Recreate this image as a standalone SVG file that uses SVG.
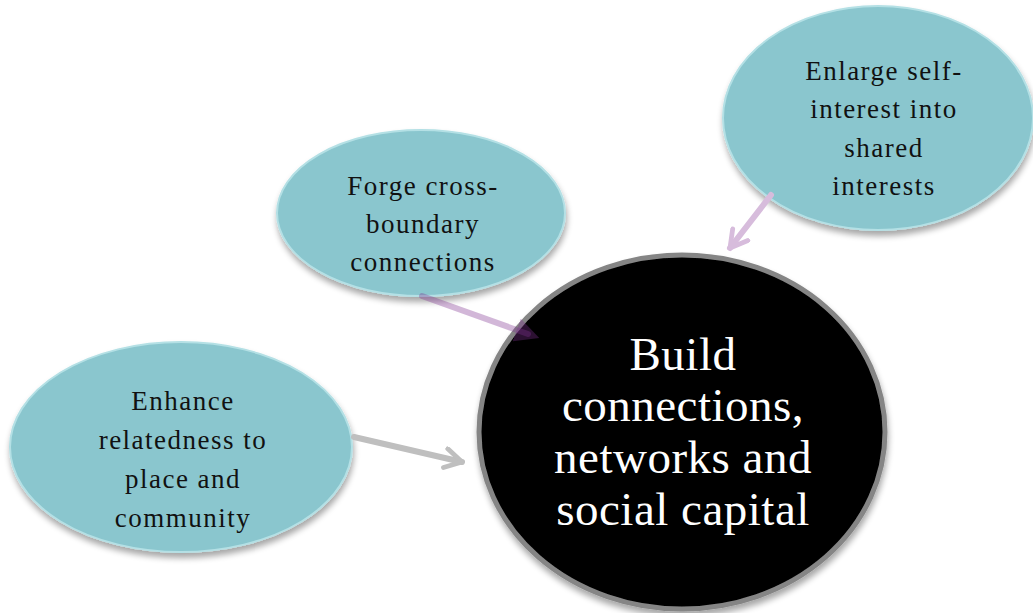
<svg xmlns="http://www.w3.org/2000/svg" width="1033" height="613" viewBox="0 0 1033 613">
<defs>
<filter id="sh" x="-20%" y="-20%" width="140%" height="150%">
<feGaussianBlur in="SourceAlpha" stdDeviation="3"/>
<feOffset dx="1" dy="5" result="b"/>
<feComponentTransfer><feFuncA type="linear" slope="0.35"/></feComponentTransfer>
<feMerge><feMergeNode/><feMergeNode in="SourceGraphic"/></feMerge>
</filter>
<marker id="chevG" viewBox="0 0 10 10" refX="8" refY="5" markerWidth="4" markerHeight="4" orient="auto" markerUnits="strokeWidth">
<path d="M1,1 L8,5 L1,9" fill="none" stroke="#BFBFBF" stroke-width="2" stroke-linecap="round" stroke-linejoin="round"/>
</marker>
<marker id="chevP" viewBox="0 0 10 10" refX="8" refY="5" markerWidth="4" markerHeight="4" orient="auto" markerUnits="strokeWidth">
<path d="M1,1 L8,5 L1,9" fill="none" stroke="#D7BCDC" stroke-width="2" stroke-linecap="round" stroke-linejoin="round"/>
</marker>
<marker id="triP" viewBox="0 0 10 10" refX="5" refY="5" markerWidth="4" markerHeight="4" orient="auto" markerUnits="strokeWidth">
<path d="M0,0 L10,5 L0,10 Z" fill="#7E3290" fill-opacity="0.35"/>
</marker>
</defs>
<style>
.sat{fill:#8AC6CE;stroke:#B4E0E5;stroke-width:2;filter:url(#sh)}
.t{font-family:"Liberation Serif",serif;font-size:27px;letter-spacing:1.5px;fill:#111;text-anchor:middle}
.c{font-family:"Liberation Serif",serif;font-size:47px;letter-spacing:0.5px;fill:#fff;text-anchor:middle}
</style>
<rect width="1033" height="613" fill="#fff"/>
<g id="n-enhance">
<ellipse class="sat" cx="181" cy="447" rx="171" ry="105"/>
<text class="t" x="183" y="410">Enhance</text>
<text class="t" x="183" y="449">relatedness to</text>
<text class="t" x="183" y="488">place and</text>
<text class="t" x="183" y="527">community</text>
</g>
<g id="n-forge">
<ellipse class="sat" cx="421" cy="213" rx="144" ry="83"/>
<text class="t" x="423" y="195">Forge cross-</text>
<text class="t" x="423" y="233">boundary</text>
<text class="t" x="423" y="271">connections</text>
</g>
<g id="n-enlarge">
<ellipse class="sat" cx="878" cy="118" rx="155" ry="112"/>
<text class="t" x="884" y="80">Enlarge self-</text>
<text class="t" x="884" y="118">interest into</text>
<text class="t" x="884" y="157">shared</text>
<text class="t" x="884" y="195">interests</text>
</g>
<g id="n-build">
<ellipse cx="682" cy="432" rx="203" ry="177" fill="#000" stroke="#858585" stroke-width="5" filter="url(#sh)"/>
<text class="c" x="683" y="370">Build</text>
<text class="c" x="683" y="421">connections,</text>
<text class="c" x="683" y="473">networks and</text>
<text class="c" x="683" y="525">social capital</text>
</g>
<g id="connectors" fill="none" stroke-width="6" stroke-linecap="round">
<line x1="354" y1="437" x2="462" y2="462" stroke="#BFBFBF" marker-end="url(#chevG)"/>
<line x1="771" y1="195" x2="730" y2="248" stroke="#D7BCDC" marker-end="url(#chevP)"/>
<line x1="422" y1="296" x2="528" y2="334" stroke="#7E3290" stroke-opacity="0.35" marker-end="url(#triP)"/>
</g>
</svg>
